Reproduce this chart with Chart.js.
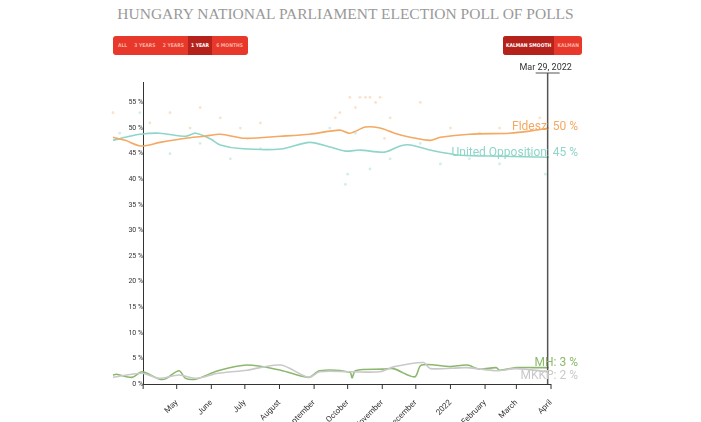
<!DOCTYPE html>
<html><head><meta charset="utf-8">
<script src="https://cdn.jsdelivr.net/npm/chart.js@4"></script>
<style>
body{margin:0;background:#fff;font-family:Roboto,sans-serif;}
#wrap{position:relative;width:701px;height:422px;}
canvas{position:absolute;left:0;top:0;}
h1{position:absolute;top:5px;left:0;width:691px;text-align:center;margin:0;font:15.5px "Liberation Serif",serif;color:#999;}
.btns{position:absolute;display:flex;background:#e8382b;border-radius:3px;height:19px;overflow:hidden;align-items:stretch;font:bold 5px "DejaVu Sans Condensed",sans-serif;color:#f9b0a0;white-space:nowrap;padding:0 2px;box-sizing:border-box}
.btns span{padding:0 3px;line-height:19px;white-space:nowrap}
.btns .on{background:#b5221b;color:#fff}
</style></head><body>
<div id="wrap">
<h1>HUNGARY NATIONAL PARLIAMENT ELECTION POLL OF POLLS</h1>
<div class="btns" style="left:113px;top:36px;width:135px;justify-content:space-between"><span>ALL</span><span>3 YEARS</span><span>2 YEARS</span><span class="on">1 YEAR</span><span>6 MONTHS</span></div>
<div class="btns" style="left:503px;top:36px;width:79px;justify-content:space-between;padding:0"><span class="on">KALMAN SMOOTH</span><span>KALMAN</span></div>
<canvas id="c" width="701" height="422"></canvas>
</div>
<script>
const px2day = x => Math.round((x-143)/1.118);
const monthTicks = [0,30,61,91,122,153,183,214,244,275,306,334,365];
const monthLabels = ['','May','June','July','August','September','October','November','December','2022','February','March','April'];
const fideszX = [113,125,141,160,185,205,220,245,280,310,340,350,365,380,395,410,430,440,470,510,530,549];
const fideszY = [48.2,47.6,46.5,47.2,48,48.4,48.8,48,48.4,48.8,49.6,49,50.2,50,49,48.2,47.6,48.2,48.8,49,49.4,50];
const uoX = [113,125,140,160,185,195,210,220,240,280,310,330,345,360,385,400,410,430,460,500,549];
const uoY = [47.6,48.2,48.8,49,48.4,49,47.9,46.7,46,45.9,47.2,46.3,45.5,45.7,45.3,46.5,46.7,45.7,44.7,44.5,44.3];
const mhZX = [40,50,95,125,175,195,235,255,290,355,440,540,625,660,750,755,765,850,880,945,965,1050,1100,1140,1190,1200,1250,1300,1345];
const mhY = [1.75,1.9,1.3,2.4,1,1,2.6,1.1,1,2.6,3.7,2.7,1.3,2.6,2.3,1.2,2.6,2.9,3,1.4,3.7,3.4,3.7,2.9,3.2,2.7,3.2,3.2,3.2];
const mkkpZX = [40,125,175,235,290,355,440,540,625,660,750,840,885,970,990,1100,1190,1250,1345];
const mkkpY = [1.3,2.1,1.1,1.75,1.1,2.1,2.7,3.7,1.3,2.4,2.4,2.4,3.4,4.2,3,3.2,2.6,3,2.4];
const pollFX = [113,150,170,190,200,220,240,260,335,340,350,355,360,365,370,375,380,385,390,420,450,480,500,520,540];
const pollFY = [53,51,53,50,54,52,50,51,52,53,56,54,56,56,56,55,56,48,52,55,50,49,50,51,52];
const pollUX = [120,140,170,200,230,260,330,345,348,355,370,390,420,440,470,500,530,545];
const pollUY = [49,53,45,47,44,46,50,39,41,49,42,44,47,43,44,43,45,41];
const FIDESZ='#f4a862', UO='#8fd5c9', MH='#8cb86d', MKKP='#c9c9c9';
const pts=(xs,ys,f)=>xs.map((x,i)=>({x:px2day(f?f(x):x),y:ys[i]}));
const zx=z=>100+z/3;
const line=(label,data,c)=>({label,data,borderColor:c,borderWidth:1.6,pointRadius:0,tension:0.3,clip:false,type:'line'});
const dots=(data,c)=>({data,backgroundColor:c,pointRadius:1.4,borderWidth:0,type:'scatter',clip:false,showLine:false});
const endLabel={id:'endLabel',afterDatasetsDraw(ch){
 const {ctx,scales:{x,y}}=ch;
 ctx.save();
 const y0=y.getPixelForValue(0);
 ctx.strokeStyle='#333';ctx.lineWidth=1;
 ctx.beginPath();ctx.moveTo(x.getPixelForValue(0),y0+0.5);ctx.lineTo(x.getPixelForValue(365),y0+0.5);ctx.stroke();
 monthTicks.forEach(v=>{const p=x.getPixelForValue(v);ctx.beginPath();ctx.moveTo(p,y0);ctx.lineTo(p,y0+5);ctx.stroke();});
 const lx=x.getPixelForValue(362);
 ctx.strokeStyle='#555';ctx.lineWidth=1.5;
 ctx.beginPath();ctx.moveTo(lx,73);ctx.lineTo(lx,y0);ctx.stroke();
 ctx.beginPath();ctx.moveTo(lx-12,73);ctx.lineTo(lx+12,73);ctx.lineWidth=1;ctx.stroke();
 ctx.fillStyle='#333';ctx.font='9px Roboto';ctx.textAlign='center';ctx.fillText('Mar 29, 2022',lx-2,70);
 ctx.textAlign='right';ctx.font='12px Roboto';
 [['Fidesz: 50 %',FIDESZ,50.5],['United Opposition: 45 %',UO,45.4],['MH: 3 %',MH,4.3],['MKKP: 2 %',MKKP,1.8]].forEach(([t,c,v])=>{
  ctx.fillStyle=c;ctx.fillText(t,578,y.getPixelForValue(v)+4);});
 ctx.restore();}};
new Chart(document.getElementById('c'),{
 data:{datasets:[
  dots(pts(pollFX,pollFY),'rgba(244,168,98,0.35)'),
  dots(pts(pollUX,pollUY),'rgba(143,213,201,0.4)'),
  line('Fidesz',pts(fideszX,fideszY),FIDESZ),
  line('United Opposition',pts(uoX,uoY),UO),
  line('MKKP',pts(mkkpZX,mkkpY,zx),MKKP),
  line('MH',pts(mhZX,mhY,zx),MH)]},
 options:{responsive:false,animation:false,
  layout:{padding:{left:113,right:150,top:82,bottom:0}},
  plugins:{legend:{display:false},tooltip:{enabled:false}},
  scales:{
   x:{type:'linear',min:-27,max:365,grid:{display:false},border:{display:false},
    afterBuildTicks:s=>{s.ticks=monthTicks.map(v=>({value:v}));},
    afterFit:s=>{s.height=38;},
    ticks:{autoSkip:false,maxRotation:45,minRotation:45,padding:6,font:{size:8,family:'Roboto'},color:'#333',
     callback:(v)=>monthLabels[monthTicks.indexOf(v)]}},
   y:{position:{x:0},min:0,max:59,grid:{display:false},border:{color:'#333'},
    afterBuildTicks:s=>{s.ticks=[0,5,10,15,20,25,30,35,40,45,50,55].map(v=>({value:v}));},
    ticks:{font:{size:7,family:'Roboto'},color:'#333',callback:v=>v+' %'}}}},
 plugins:[endLabel]});
</script></body></html>
